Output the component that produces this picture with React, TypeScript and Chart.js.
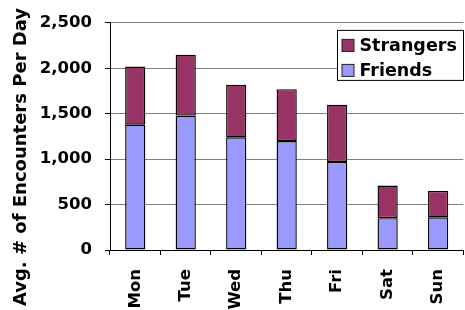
import React, { useEffect, useRef } from "react";
import { Chart, registerables } from "chart.js";

Chart.register(...registerables);

const days = ["Mon", "Tue", "Wed", "Thu", "Fri", "Sat", "Sun"];
const friends = [1380, 1480, 1240, 1200, 970, 350, 360];
const strangers = [640, 670, 580, 570, 630, 360, 290];
const yTicks = [0, 500, 1000, 1500, 2000, 2500];
const yTitle = "Avg. # of Encounters Per Day";
const legendItems = [
  { label: "Strangers", color: "#993366" },
  { label: "Friends", color: "#9999FF" },
];

const FONT = "'DejaVu Sans', Verdana, sans-serif";

export default function App() {
  const ref = useRef<HTMLCanvasElement | null>(null);

  useEffect(() => {
    const canvas = ref.current;
    if (!canvas) return;

    const overlay = {
      id: "overlay",
      afterDraw(chart: any) {
        const ctx = chart.ctx;
        const area = chart.chartArea;
        ctx.save();
        // y axis title
        ctx.font = `bold 18px ${FONT}`;
        ctx.fillStyle = "#000";
        ctx.textAlign = "center";
        ctx.textBaseline = "middle";
        ctx.translate(21.5, 157);
        ctx.rotate(-Math.PI / 2);
        ctx.fillText(yTitle, 0, 0);
        ctx.restore();

        // legend
        ctx.save();
        const bx = area.left + 227.5;
        const by = area.top + 7.5;
        const bw = 126;
        const bh = 50;
        ctx.fillStyle = "#fff";
        ctx.fillRect(bx, by, bw, bh);
        ctx.strokeStyle = "#000";
        ctx.lineWidth = 1;
        ctx.strokeRect(bx, by, bw, bh);
        ctx.font = `bold 17.5px ${FONT}`;
        ctx.textAlign = "left";
        ctx.textBaseline = "middle";
        legendItems.forEach((it, i) => {
          const cy = by + 15.5 + i * 25;
          ctx.fillStyle = it.color;
          ctx.fillRect(bx + 4.5, cy - 6.5, 12, 12);
          ctx.strokeStyle = "#222";
          ctx.strokeRect(bx + 4.5, cy - 6.5, 12, 12);
          ctx.fillStyle = "#000";
          ctx.fillText(it.label, bx + 22, cy + 1);
        });
        ctx.restore();
      },
    };

    const chart = new Chart(canvas, {
      type: "bar",
      data: {
        labels: days,
        datasets: [
          {
            label: "Friends",
            data: friends,
            backgroundColor: "#9999FF",
            borderColor: "#000",
            borderWidth: 1.4,
            borderSkipped: false,
          },
          {
            label: "Strangers",
            data: strangers,
            backgroundColor: "#993366",
            borderColor: "#000",
            borderWidth: 1.4,
            borderSkipped: false,
          },
        ],
      },
      options: {
        responsive: false,
        animation: false,
        devicePixelRatio: 1,
        layout: { padding: { left: 0, right: 1, top: 20, bottom: 0 } },
        datasets: {
          bar: { categoryPercentage: 1, barPercentage: 0.4 },
        },
        plugins: {
          legend: { display: false },
          tooltip: { enabled: false },
        },
        scales: {
          x: {
            stacked: true,
            offset: true,
            grid: {
              display: true,
              drawOnChartArea: false,
              offset: true,
              tickLength: 5,
              tickColor: "#000",
            },
            border: { color: "#000", width: 1 },
            ticks: {
              color: "#000",
              font: { family: FONT, size: 16.5, weight: "bold" },
              minRotation: 90,
              maxRotation: 90,
              padding: 14,
              autoSkip: false,
            },
            afterFit: (s: any) => {
              s.height = 60;
            },
          },
          y: {
            stacked: true,
            min: 0,
            max: 2500,
            afterBuildTicks: (s: any) => {
              s.ticks = yTicks.map((v) => ({ value: v }));
            },
            grid: {
              color: (c: any) => (c.tick && c.tick.value === 0 ? "#000" : "#808080"),
              tickLength: 5,
              tickColor: "#000",
              lineWidth: 1,
            },
            border: { color: "#000", width: 1 },
            ticks: {
              color: "#000",
              font: { family: FONT, size: 16.5, weight: "bold" },
              padding: 13,
              callback: (v: any) => Number(v).toLocaleString("en-US"),
            },
            afterFit: (s: any) => {
              s.width = 110;
            },
          },
        },
      },
      plugins: [overlay],
    } as any);

    return () => chart.destroy();
  }, []);

  return (
    <div
      style={{
        position: "fixed",
        left: 0,
        top: 0,
        width: 465,
        height: 310,
        overflow: "hidden",
        background: "#fff",
      }}
    >
      <canvas ref={ref} width={472} height={310} style={{ display: "block" }} />
    </div>
  );
}
